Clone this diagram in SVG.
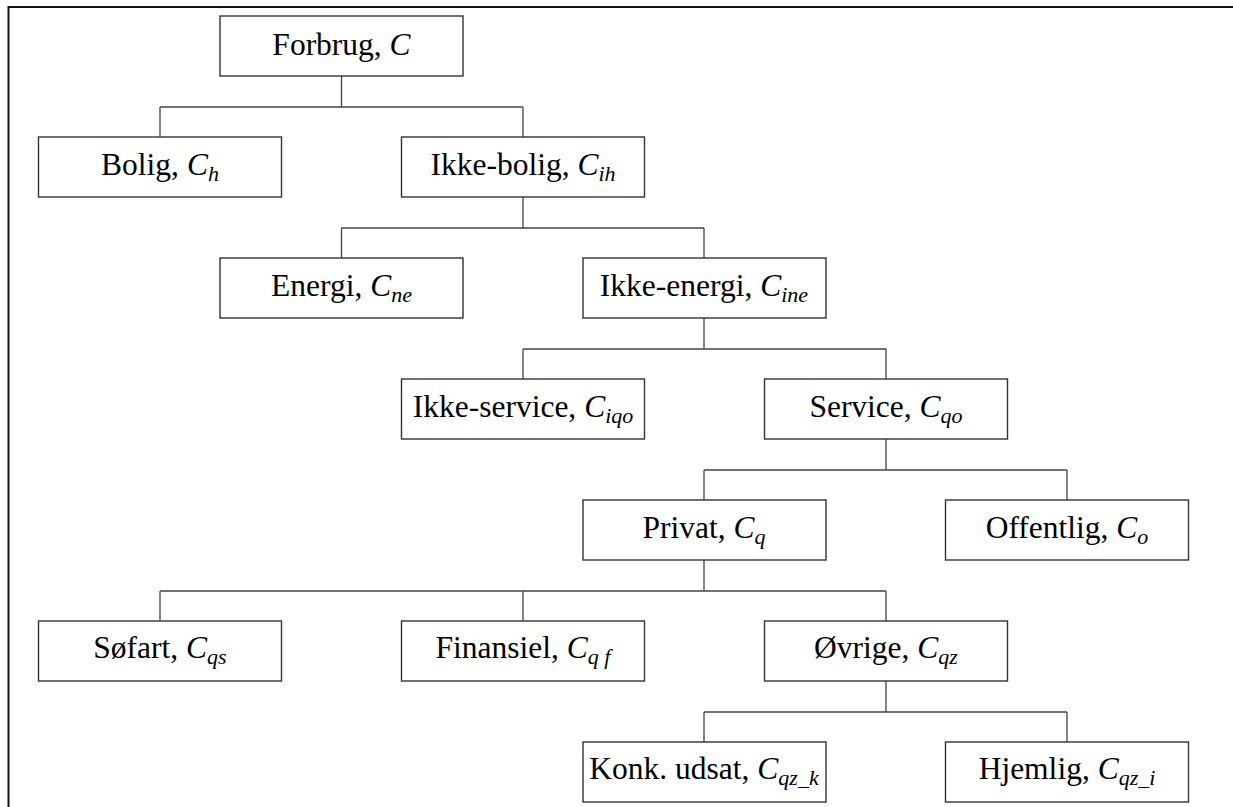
<svg xmlns="http://www.w3.org/2000/svg" width="1233" height="807" viewBox="0 0 1233 807">
<style>
.box{fill:#fff;stroke:#333;stroke-width:1.4}
.lbl{font-family:"Liberation Serif","Times New Roman",serif;font-size:31.5px;fill:#000;text-anchor:middle}
.it{font-style:italic}
.sub{font-style:italic;font-size:22px}
.con{fill:none;stroke:#444;stroke-width:1.3}
</style>
<rect width="1233" height="807" fill="#fff"/>
<path d="M8.5,807 V7 H1233" fill="none" stroke="#111" stroke-width="2"/>
<g id="connectors">
<path class="con" d="M341.5,76 V107 M160,107 H523 M160,107 V137 M523,107 V137"/>
<path class="con" d="M523,197 V228 M341.5,228 H704 M341.5,228 V258 M704,228 V258"/>
<path class="con" d="M704,318 V349 M523,349 H886 M523,349 V379 M886,349 V379"/>
<path class="con" d="M886,439 V470 M704,470 H1067 M704,470 V500 M1067,470 V500"/>
<path class="con" d="M704,560 V591 M160,591 H886 M160,591 V621 M523,591 V621 M886,591 V621"/>
<path class="con" d="M886,681 V712 M704,712 H1067 M704,712 V742 M1067,712 V742"/>
</g>
<g id="n-forbrug"><rect class="box" x="220" y="16" width="243" height="60"/><text class="lbl" x="341.5" y="54.5">Forbrug, <tspan class="it">C</tspan></text></g>
<g id="n-bolig"><rect class="box" x="38.5" y="137" width="243" height="60"/><text class="lbl" x="160" y="174.5">Bolig, <tspan class="it">C</tspan><tspan class="sub" dy="6">h</tspan></text></g>
<g id="n-ikkebolig"><rect class="box" x="401.5" y="137" width="243" height="60"/><text class="lbl" x="523" y="174.5">Ikke-bolig, <tspan class="it">C</tspan><tspan class="sub" dy="6">ih</tspan></text></g>
<g id="n-energi"><rect class="box" x="220" y="258" width="243" height="60"/><text class="lbl" x="341.5" y="295.5">Energi, <tspan class="it">C</tspan><tspan class="sub" dy="6">ne</tspan></text></g>
<g id="n-ikkeenergi"><rect class="box" x="583" y="258" width="243" height="60"/><text class="lbl" x="704" y="295.5">Ikke-energi, <tspan class="it">C</tspan><tspan class="sub" dy="6">ine</tspan></text></g>
<g id="n-ikkeservice"><rect class="box" x="401.5" y="379" width="243" height="60"/><text class="lbl" x="523" y="416.5">Ikke-service, <tspan class="it">C</tspan><tspan class="sub" dy="6">iqo</tspan></text></g>
<g id="n-service"><rect class="box" x="764.5" y="379" width="243" height="60"/><text class="lbl" x="886" y="416.5">Service, <tspan class="it">C</tspan><tspan class="sub" dy="6">qo</tspan></text></g>
<g id="n-privat"><rect class="box" x="583" y="500" width="243" height="60"/><text class="lbl" x="704" y="537.5">Privat, <tspan class="it">C</tspan><tspan class="sub" dy="6">q</tspan></text></g>
<g id="n-offentlig"><rect class="box" x="945.5" y="500" width="243" height="60"/><text class="lbl" x="1067" y="537.5">Offentlig, <tspan class="it">C</tspan><tspan class="sub" dy="6">o</tspan></text></g>
<g id="n-sofart"><rect class="box" x="38.5" y="621" width="243" height="60"/><text class="lbl" x="160" y="657.5">Søfart, <tspan class="it">C</tspan><tspan class="sub" dy="6">qs</tspan></text></g>
<g id="n-finansiel"><rect class="box" x="401.5" y="621" width="243" height="60"/><text class="lbl" x="523" y="657.5">Finansiel, <tspan class="it">C</tspan><tspan class="sub" dy="6">q f</tspan></text></g>
<g id="n-ovrige"><rect class="box" x="764.5" y="621" width="243" height="60"/><text class="lbl" x="886" y="657.5">Øvrige, <tspan class="it">C</tspan><tspan class="sub" dy="6">qz</tspan></text></g>
<g id="n-konk"><rect class="box" x="583" y="742" width="243" height="60"/><text class="lbl" x="704" y="779">Konk. udsat, <tspan class="it">C</tspan><tspan class="sub" dy="6">qz_k</tspan></text></g>
<g id="n-hjemlig"><rect class="box" x="945.5" y="742" width="243" height="60"/><text class="lbl" x="1067" y="779">Hjemlig, <tspan class="it">C</tspan><tspan class="sub" dy="6">qz_i</tspan></text></g>
</svg>
